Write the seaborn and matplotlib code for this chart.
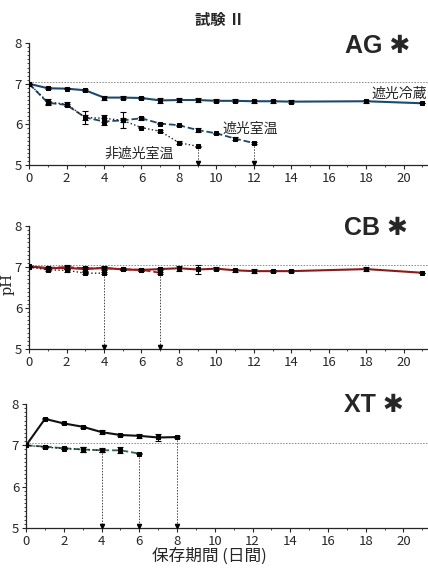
import numpy as np
import pandas as pd
import matplotlib
matplotlib.use("Agg")
import matplotlib.pyplot as plt
import seaborn as sns

# ---- data ----
ag_cold_x = [0, 1, 2, 3, 4, 5, 6, 7, 8, 9, 10, 11, 12, 13, 14, 18, 21]
ag_cold_y = [7.0, 6.89, 6.88, 6.84, 6.66, 6.66, 6.65, 6.59, 6.60, 6.60, 6.58, 6.58, 6.57, 6.57, 6.56, 6.57, 6.52]
ag_cold_e = [0, 0.02, 0.01, 0.02, 0.05, 0.04, 0.02, 0.07, 0.05, 0.05, 0.04, 0.04, 0.04, 0.04, 0.03, 0.04, 0]
ag_dark_x = [0, 1, 2, 3, 4, 5, 6, 7, 8, 9, 10, 11, 12]
ag_dark_y = [7.0, 6.53, 6.48, 6.17, 6.07, 6.10, 6.15, 6.02, 5.98, 5.86, 5.78, 5.65, 5.54]
ag_dark_e = [0, 0.04, 0.03, 0.05, 0.08, 0.05, 0.03, 0.02, 0.01, 0.05, 0.02, 0.03, 0.02]
ag_light_x = [0, 1, 2, 3, 4, 5, 6, 7, 8, 9]
ag_light_y = [7.0, 6.55, 6.50, 6.17, 6.15, 6.10, 5.92, 5.83, 5.55, 5.46]
ag_light_e = [0, 0.08, 0.05, 0.16, 0.08, 0.20, 0.02, 0.02, 0.04, 0.02]

cb_cold_x = [0, 1, 2, 3, 4, 5, 6, 7, 8, 9, 10, 11, 12, 13, 14, 18, 21]
cb_cold_y = [7.02, 6.97, 6.98, 6.95, 6.98, 6.94, 6.93, 6.95, 6.97, 6.94, 6.96, 6.92, 6.90, 6.90, 6.90, 6.95, 6.86]
cb_cold_e = [0, 0.03, 0.04, 0.05, 0.05, 0.02, 0.02, 0.03, 0.06, 0.10, 0.03, 0.03, 0.04, 0.03, 0.03, 0.04, 0]
cb_dark_x = [0, 1, 2, 3, 4, 5, 6, 7]
cb_dark_y = [7.0, 6.98, 7.0, 6.97, 6.97, 6.95, 6.93, 6.86]
cb_dark_e = [0, 0.03, 0.04, 0.03, 0.03, 0.02, 0.02, 0.02]
cb_light_x = [0, 1, 2, 3, 4]
cb_light_y = [7.0, 6.93, 6.92, 6.85, 6.85]
cb_light_e = [0, 0.03, 0.03, 0.02, 0.02]

xt_cold_x = [0, 1, 2, 3, 4, 5, 6, 7, 8]
xt_cold_y = [7.0, 7.64, 7.53, 7.45, 7.32, 7.25, 7.23, 7.19, 7.20]
xt_cold_e = [0, 0.01, 0.02, 0.03, 0.05, 0.03, 0.05, 0.08, 0.02]
xt_dark_x = [0, 1, 2, 3, 4, 5, 6]
xt_dark_y = [7.0, 6.97, 6.93, 6.90, 6.88, 6.88, 6.80]
xt_dark_e = [0, 0.02, 0.02, 0.05, 0.05, 0.07, 0.01]
xt_light_x = [0, 1, 2, 3, 4]
xt_light_y = [7.0, 6.96, 6.92, 6.90, 6.88]
xt_light_e = [0, 0.02, 0.01, 0.05, 0.04]

panel_names = ["AG ✱", "CB ✱", "XT ✱"]
ref_ph = 7.05

sns.set_style("ticks")
plt.rcParams["font.family"] = ["Noto Sans CJK JP", "DejaVu Sans"]

fig = plt.figure(figsize=(4.28, 5.68), dpi=100)
boxes = [[0.068, 0.7095, 0.932, 0.2145],
         [0.068, 0.3856, 0.932, 0.2164],
         [0.061, 0.0704, 0.939, 0.2183]]
name_pos = [(0.955, 0.98), (0.95, 0.985), (0.94, 0.99)]

panels = [
    [(ag_cold_x, ag_cold_y, ag_cold_e, "#1c4a6e", "-"),
     (ag_dark_x, ag_dark_y, ag_dark_e, "#1c4a6e", "--"),
     (ag_light_x, ag_light_y, ag_light_e, "#222222", ":")],
    [(cb_cold_x, cb_cold_y, cb_cold_e, "#8b1a1a", "-"),
     (cb_dark_x, cb_dark_y, cb_dark_e, "#a01e1e", "--"),
     (cb_light_x, cb_light_y, cb_light_e, "#222222", ":")],
    [(xt_cold_x, xt_cold_y, xt_cold_e, "#111111", "-"),
     (xt_dark_x, xt_dark_y, xt_dark_e, "#2f6b4a", "--"),
     (xt_light_x, xt_light_y, xt_light_e, "#222222", ":")],
]

for i, (box, series) in enumerate(zip(boxes, panels)):
    ax = fig.add_axes(box)
    ax.axhline(ref_ph, color="#888888", ls=(0, (1.5, 1.5)), lw=0.7, zorder=1)
    for k, (xs, ys, es, col, ls) in enumerate(series):
        df = pd.DataFrame({"day": xs, "ph": ys})
        lw = 1.5 if ls == "-" else 1.3
        if ls == ":":
            lw = 1.0
        sns.lineplot(data=df, x="day", y="ph", ax=ax, color=col, linestyle=ls,
                     lw=lw, marker="s", markersize=2.5, markerfacecolor="black",
                     markeredgecolor="black", zorder=3)
        ax.errorbar(xs, ys, yerr=es, fmt="none", ecolor="black", elinewidth=0.8,
                    capsize=2, capthick=0.8, zorder=4)
        # drop line from last point of shorter series
        if xs[-1] < 20:
            ax.plot([xs[-1], xs[-1]], [ys[-1], 5.0], color="#444444",
                    ls=(0, (1.5, 1.5)), lw=0.7, zorder=2)
            ax.plot([xs[-1]], [5.06], marker="v", color="black", markersize=3,
                    zorder=5, clip_on=False)
    ax.set_xlim(0, 21.3)
    ax.set_ylim(5, 8)
    ax.set_xticks(range(0, 21, 2))
    ax.set_xticks(range(0, 22), minor=True)
    ax.set_yticks([5, 6, 7, 8])
    ax.set_yticks(np.arange(5, 8.01, 0.1), minor=True)
    ax.tick_params(axis="both", which="major", labelsize=9.5, length=3, width=0.8, pad=2)
    ax.tick_params(axis="both", which="minor", length=1.5, width=0.6)
    ax.set_xlabel("")
    ax.set_ylabel("")
    sns.despine(ax=ax)
    for sp in ["left", "bottom"]:
        ax.spines[sp].set_linewidth(0.9)
    nx, ny = name_pos[i]
    ax.text(nx, ny, panel_names[i], transform=ax.transAxes, ha="right",
            va="center", fontsize=18, fontweight="bold",
            family=["Liberation Sans", "DejaVu Sans"])
    if i == 0:
        ax.text(18.3, 6.75, "遮光冷蔵", fontsize=10, ha="left", va="center")
        ax.text(10.3, 5.9, "遮光室温", fontsize=10, ha="left", va="center")
        ax.text(4.0, 5.28, "非遮光室温", fontsize=10, ha="left", va="center")

fig.text(0.514, 0.965, "試験 Ⅱ", ha="center", va="center", fontsize=11, fontweight="bold")
fig.text(0.019, 0.5, "pH", rotation=90, ha="center", va="center", fontsize=10.5,
         family=["DejaVu Serif"])
fig.text(0.49, 0.02, "保存期間 (日間)", ha="center", va="center", fontsize=12)

fig.savefig("out.png", dpi=100)
